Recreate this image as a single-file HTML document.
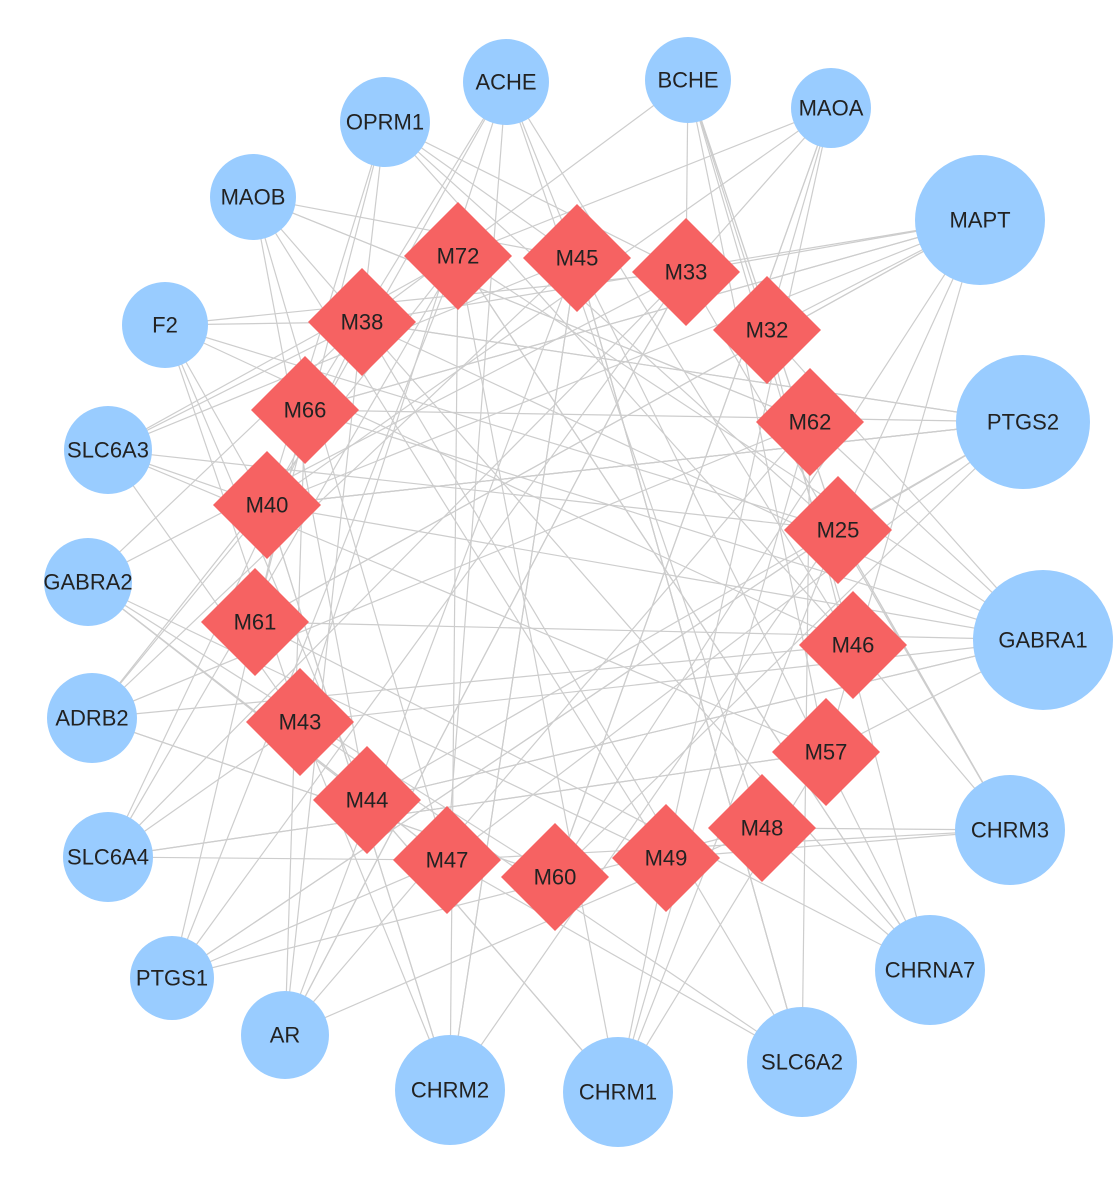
<!DOCTYPE html>
<html><head><meta charset="utf-8"><style>
html,body{margin:0;padding:0;background:#fff;}
svg{display:block}
text{font-family:"Liberation Sans",sans-serif;font-size:22px;fill:#222;text-anchor:middle;dominant-baseline:central}
</style></head><body>
<svg id="s" width="1118" height="1183" viewBox="0 0 1118 1183" xmlns="http://www.w3.org/2000/svg">
<g id="edges" stroke="#cdcdcd" stroke-width="1.2" fill="none"></g>
<g fill="#99ccff">
<circle cx="385" cy="122" r="45"/><circle cx="506" cy="82" r="43"/><circle cx="688" cy="80" r="43"/><circle cx="831" cy="108" r="40"/>
<circle cx="980" cy="220" r="65"/><circle cx="253" cy="197" r="43"/><circle cx="165" cy="325" r="43"/><circle cx="108" cy="450" r="44"/>
<circle cx="1023" cy="422" r="67"/><circle cx="88" cy="582" r="44"/><circle cx="1043" cy="640" r="70"/><circle cx="92" cy="718" r="45"/>
<circle cx="1010" cy="830" r="55"/><circle cx="108" cy="857" r="45"/><circle cx="930" cy="970" r="55"/><circle cx="172" cy="978" r="42"/>
<circle cx="285" cy="1035" r="44"/><circle cx="450" cy="1090" r="55"/><circle cx="618" cy="1092" r="55"/><circle cx="802" cy="1062" r="55"/>
</g>
<g id="dia" fill="#f66262"></g>
<g>
<text x="385" y="122">OPRM1</text><text x="506" y="82">ACHE</text><text x="688" y="80">BCHE</text><text x="831" y="108">MAOA</text>
<text x="980" y="220">MAPT</text><text x="253" y="197">MAOB</text><text x="165" y="325">F2</text><text x="108" y="450">SLC6A3</text>
<text x="1023" y="422">PTGS2</text><text x="88" y="582">GABRA2</text><text x="1043" y="640">GABRA1</text><text x="92" y="718">ADRB2</text>
<text x="1010" y="830">CHRM3</text><text x="108" y="857">SLC6A4</text><text x="930" y="970">CHRNA7</text><text x="172" y="978">PTGS1</text>
<text x="285" y="1035">AR</text><text x="450" y="1090">CHRM2</text><text x="618" y="1092">CHRM1</text><text x="802" y="1062">SLC6A2</text>
<text x="458" y="256">M72</text><text x="577" y="258">M45</text><text x="686" y="272">M33</text><text x="767" y="330">M32</text>
<text x="362" y="322">M38</text><text x="305" y="410">M66</text><text x="810" y="422">M62</text><text x="267" y="505">M40</text>
<text x="838" y="530">M25</text><text x="255" y="622">M61</text><text x="853" y="645">M46</text><text x="300" y="722">M43</text>
<text x="826" y="752">M57</text><text x="367" y="800">M44</text><text x="762" y="828">M48</text><text x="447" y="860">M47</text>
<text x="666" y="858">M49</text><text x="555" y="877">M60</text>
</g>
</svg>
<script>
var C=[[385,122],[506,82],[688,80],[831,108],[980,220],[253,197],[165,325],[108,450],[1023,422],[88,582],[1043,640],[92,718],[1010,830],[108,857],[930,970],[172,978],[285,1035],[450,1090],[618,1092],[802,1062]];
var D=[[458,256],[577,258],[686,272],[767,330],[362,322],[305,410],[810,422],[267,505],[838,530],[255,622],[853,645],[300,722],[826,752],[367,800],[762,828],[447,860],[666,858],[555,877]];
var ns="http://www.w3.org/2000/svg",e=document.getElementById("edges"),d=document.getElementById("dia");
var seed=7;function r(){seed=(seed*9301+49297)%233280;return seed/233280;}
for(var i=0;i<C.length;i++){var k=(i==4||i==8||i==10)?11:7;for(var j=0;j<k;j++){var t=D[Math.floor(r()*D.length)];var l=document.createElementNS(ns,"line");l.setAttribute("x1",C[i][0]);l.setAttribute("y1",C[i][1]);l.setAttribute("x2",t[0]);l.setAttribute("y2",t[1]);e.appendChild(l);}}
D.forEach(function(p){var g=document.createElementNS(ns,"polygon");var h=54;g.setAttribute("points",(p[0])+","+(p[1]-h)+" "+(p[0]+h)+","+p[1]+" "+p[0]+","+(p[1]+h)+" "+(p[0]-h)+","+p[1]);d.appendChild(g);});
</script>
</body></html>
